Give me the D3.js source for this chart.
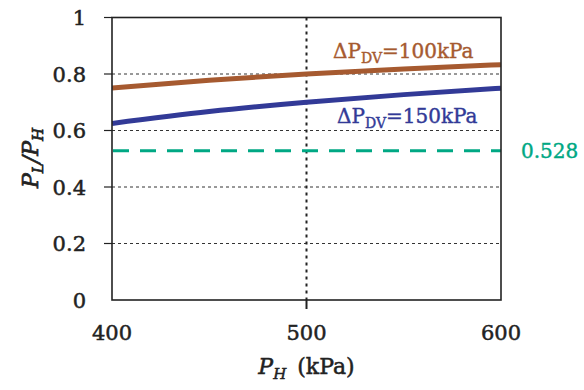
<!DOCTYPE html>
<html>
<head>
<meta charset="utf-8">
<script src="https://cdn.jsdelivr.net/npm/d3@7"></script>
<style>
  html, body { margin: 0; padding: 0; background: #fff; }
  svg { display: block; }
  text { font-family: "DejaVu Serif", "Liberation Serif", serif; }
</style>
</head>
<body>
<svg id="chart" width="584" height="390"></svg>
<script>
// ---- data ----
const pH = [400, 450, 500, 550, 600];
const ratio100 = [0.75, 0.778, 0.80, 0.818, 0.833];   // ΔP_DV = 100 kPa
const ratio150 = [0.625, 0.667, 0.70, 0.727, 0.75];   // ΔP_DV = 150 kPa
const criticalRatio = 0.528;
const xTicks = [400, 500, 600];
const yTicks = [0, 0.2, 0.4, 0.6, 0.8, 1];
const yGrid = [0.2, 0.4, 0.6, 0.8];
const xGrid = [500];

const colors = { dv100: "#a65a30", dv150: "#323a97", crit: "#00a884", axis: "#222" };

const svg = d3.select("#chart");
const m = { left: 112, right: 501, top: 17.5, bottom: 300 };

const x = d3.scaleLinear().domain([400, 600]).range([m.left, m.right]);
const y = d3.scaleLinear().domain([0, 1]).range([m.bottom, m.top]);

svg.append("defs").append("clipPath").attr("id", "clip")
  .append("rect").attr("x", m.left).attr("y", m.top)
  .attr("width", m.right - m.left).attr("height", m.bottom - m.top);

// horizontal grid (dashed)
svg.append("g").selectAll("line").data(yGrid).join("line")
  .attr("x1", m.left).attr("x2", m.right)
  .attr("y1", d => y(d)).attr("y2", d => y(d))
  .attr("stroke", "#333").attr("stroke-width", 1)
  .attr("stroke-dasharray", "3,3");

// vertical grid at 500 (dotted, heavier)
svg.append("g").selectAll("line").data(xGrid).join("line")
  .attr("x1", d => x(d)).attr("x2", d => x(d))
  .attr("y1", m.top).attr("y2", m.bottom)
  .attr("stroke", "#222").attr("stroke-width", 2)
  .attr("stroke-dasharray", "3,4");

// y ticks
svg.append("g").selectAll("line").data(yTicks.filter(d => d > 0)).join("line")
  .attr("x1", m.left - 8).attr("x2", m.left)
  .attr("y1", d => y(d)).attr("y2", d => y(d))
  .attr("stroke", colors.axis).attr("stroke-width", 1.2);

// x tick at 500
svg.append("g").selectAll("line").data(xGrid).join("line")
  .attr("x1", d => x(d)).attr("x2", d => x(d))
  .attr("y1", m.bottom).attr("y2", m.bottom + 9)
  .attr("stroke", colors.axis).attr("stroke-width", 2);

// critical ratio line
svg.append("line")
  .attr("x1", m.left).attr("x2", m.right)
  .attr("y1", y(criticalRatio)).attr("y2", y(criticalRatio))
  .attr("stroke", colors.crit).attr("stroke-width", 3)
  .attr("stroke-dasharray", "16,11").attr("stroke-dashoffset", -1);

// curves
const line = d3.line().x((d, i) => x(pH[i])).y(d => y(d)).curve(d3.curveNatural);
const g = svg.append("g").attr("clip-path", "url(#clip)");
g.append("path").attr("d", line(ratio100)).attr("fill", "none")
  .attr("stroke", colors.dv100).attr("stroke-width", 5);
g.append("path").attr("d", line(ratio150)).attr("fill", "none")
  .attr("stroke", colors.dv150).attr("stroke-width", 5);

// frame
svg.append("rect").attr("x", m.left).attr("y", m.top)
  .attr("width", m.right - m.left).attr("height", m.bottom - m.top)
  .attr("fill", "none").attr("stroke", colors.axis).attr("stroke-width", 1.6);

// helper to embolden text slightly
function heavy(sel, color, w) {
  return sel.attr("fill", color).attr("stroke", color).attr("stroke-width", w || 0.5);
}

// y tick labels
heavy(svg.append("g").selectAll("text").data(yTicks).join("text")
  .attr("x", 86).attr("y", d => y(d)).attr("dy", "0.36em")
  .attr("text-anchor", "end").attr("font-size", 21)
  .text(d => String(d)), "#222");

// x tick labels
heavy(svg.append("g").selectAll("text").data(xTicks).join("text")
  .attr("x", d => x(d)).attr("y", 340)
  .attr("text-anchor", "middle").attr("font-size", 21)
  .text(d => String(d)), "#222");

// x title
const xt = heavy(svg.append("text").attr("x", x(500)).attr("y", 374)
  .attr("text-anchor", "middle").attr("font-size", 22), "#222");
xt.append("tspan").attr("font-style", "italic").text("P");
xt.append("tspan").attr("font-style", "italic").attr("font-size", 15).attr("dy", 5).text("H");
xt.append("tspan").attr("dy", -5).text("\u2002(kPa)");

// y title
const yt = heavy(svg.append("text")
  .attr("transform", "translate(38,158) rotate(-90)")
  .attr("text-anchor", "middle").attr("font-size", 22)
  .attr("font-style", "italic"), "#222", 0.7);
yt.append("tspan").text("P");
yt.append("tspan").attr("font-size", 15).attr("dy", 5).text("L");
yt.append("tspan").attr("dy", -5).text("/P");
yt.append("tspan").attr("font-size", 15).attr("dy", 5).text("H");

// series labels
function dvLabel(xp, yp, sub, rest, color) {
  const t = heavy(svg.append("text").attr("x", xp).attr("y", yp)
    .attr("font-size", 20), color, 0.4);
  t.append("tspan").text("\u0394P");
  t.append("tspan").attr("font-size", 14).attr("dy", 5).text(sub);
  t.append("tspan").attr("dy", -5).text(rest);
}
dvLabel(333, 58, "DV", "=100kPa", colors.dv100);
dvLabel(337, 123, "DV", "=150kPa", colors.dv150);

// critical label
heavy(svg.append("text").attr("x", 521).attr("y", 158)
  .attr("font-size", 20).text(String(criticalRatio)), colors.crit, 0.4);
</script>
</body>
</html>
